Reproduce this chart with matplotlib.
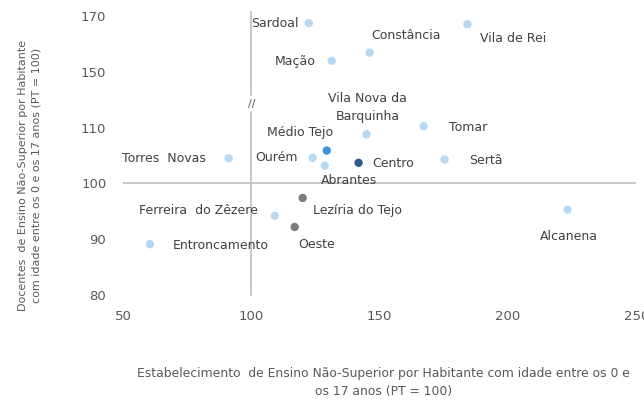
import matplotlib
matplotlib.use("Agg")
import matplotlib.pyplot as plt

# Municipalities, x = establishments index, y = teachers index (PT = 100)
names = [
    "Sardoal", "Vila de Rei", "Constância", "Mação", "Vila Nova da\nBarquinha",
    "Tomar", "Médio Tejo", "Torres  Novas", "Ourém", "Abrantes", "Centro",
    "Sertã", "Lezíria do Tejo", "Ferreira  do Zêzere", "Oeste",
    "Entroncamento", "Alcanena",
]
x_vals = [122.4, 184.2, 146.1, 131.3, 144.9, 167.1, 129.4, 91.2, 123.9,
          128.6, 141.8, 175.3, 120.0, 109.1, 116.9, 60.5, 223.2]
y_vals = [167.5, 167.1, 156.9, 154.0, 108.8, 111.0, 105.9, 104.5, 104.6,
          103.2, 103.7, 104.3, 97.4, 94.2, 92.2, 89.1, 95.3]
groups = ["mun"] * 6 + ["subregion"] + ["mun"] * 3 + ["region"] + ["mun"] + \
         ["other", "mun", "other", "mun", "mun"]

y_ticks = [80, 90, 100, 110, 150, 170]
x_ticks = [50, 100, 150, 200, 250]

colors = {"mun": "#b8d7f0", "subregion": "#3b94dc", "region": "#2f5a8c",
          "other": "#7b7b7b"}

# label offsets in pixels (dx, dy) and alignment
label_pos = {
    "Sardoal": (-10, 0, "right"),
    "Vila de Rei": (13, -14, "left"),
    "Constância": (2, 17, "left"),
    "Mação": (-16, -1, "right"),
    "Vila Nova da\nBarquinha": (1, 27, "center"),
    "Tomar": (25, -1, "left"),
    "Médio Tejo": (-27, 18, "center"),
    "Torres  Novas": (-23, 0, "right"),
    "Ourém": (-15, 0, "right"),
    "Abrantes": (24, -15, "center"),
    "Centro": (14, -1, "left"),
    "Sertã": (25, -1, "left"),
    "Lezíria do Tejo": (10, -13, "left"),
    "Ferreira  do Zêzere": (-17, 5, "right"),
    "Oeste": (4, -18, "left"),
    "Entroncamento": (23, -1, "left"),
    "Alcanena": (1, -27, "center"),
}


def squash(y):
    # broken axis: 110-150 compressed 4x, above 150 compressed 2x
    if y <= 110:
        return y
    if y <= 150:
        return 110 + (y - 110) / 4
    return 120 + (y - 150) / 2


text_color = "#404040"
tick_color = "#595959"
line_color = "#bfbfbf"

fig = plt.figure(figsize=(6.44, 4.03), dpi=100)
ax = fig.add_axes([0.191, 0.268, 0.797, 0.692])
ax.set_xlim(50, 250)
ax.set_ylim(80, 130)
for s in ax.spines.values():
    s.set_visible(False)

# reference lines at PT = 100, vertical one broken at the axis break
ax.axhline(100, color=line_color, lw=1.2, zorder=1)
ax.plot([100, 100], [80, 112.8], color=line_color, lw=1.2, zorder=1, clip_on=False)
ax.plot([100, 100], [115.9, 130.7], color=line_color, lw=1.2, zorder=1, clip_on=False)
ax.text(100, 114.3, "//", ha="center", va="center", fontsize=8, color=tick_color)

ys = [squash(v) for v in y_vals]
ax.scatter(x_vals, ys, c=[colors[g] for g in groups], s=36, zorder=3,
           linewidths=0, clip_on=False)

for n, xv, yv in zip(names, x_vals, ys):
    dx, dy, ha = label_pos[n]
    ax.annotate(n, (xv, yv), xytext=(dx, dy), textcoords="offset pixels",
                ha=ha, va="center", fontsize=9, color=text_color, linespacing=1.45)

ax.set_yticks([squash(t) for t in y_ticks])
ax.set_yticklabels([str(t) for t in y_ticks])
ax.set_xticks(x_ticks)
ax.tick_params(length=0, labelsize=9.5, colors=tick_color)
ax.tick_params(axis="y", pad=12)
ax.tick_params(axis="x", pad=11)

fig.text(0.595, 0.05, "Estabelecimento  de Ensino Não-Superior por Habitante com idade entre os 0 e\nos 17 anos (PT = 100)",
         ha="center", va="center", fontsize=8.9, color=tick_color, linespacing=1.5)
fig.text(0.046, 0.565, "Docentes  de Ensino Não-Superior por Habitante\ncom idade entre os 0 e os 17 anos (PT = 100)",
         ha="center", va="center", rotation=90, fontsize=8, color=tick_color, linespacing=1.5)

fig.savefig("out.png", dpi=100)
